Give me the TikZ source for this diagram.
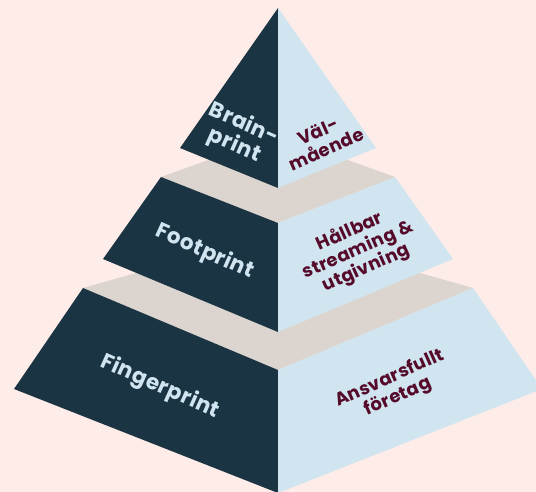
\documentclass[tikz,border=0pt]{standalone}
\usepackage{fontspec}
\setmainfont{Poppins}
\definecolor{bgc}{HTML}{FDECE8}
\definecolor{darkc}{HTML}{1B3443}
\definecolor{lightc}{HTML}{D0E5F0}
\definecolor{grayc}{HTML}{DCD4CE}
\definecolor{maroonc}{HTML}{550A2A}
\tikzset{
  lefttxt/.style={text=lightc, font=\bfseries\fontsize{21.5}{23.5}\selectfont\addfontfeatures{LetterSpace=2}, align=center, rotate=-24, inner sep=0pt},
  righttxt/.style={text=maroonc, font=\bfseries\fontsize{18}{20}\selectfont\addfontfeatures{LetterSpace=2}, align=center, rotate=24, inner sep=0pt}
}
\begin{document}
\begin{tikzpicture}[x=1pt,y=-1pt]
\useasboundingbox (0,0) rectangle (536,492);
\clip (0,0) rectangle (536,492);
\fill[bgc] (0,0) rectangle (536,492);
% bottom tier
\fill[grayc] (83,288) -- (278,233) -- (473,288) -- (278,370) -- cycle;
\fill[darkc] (83,288) -- (278,370) -- (278,493) -- (14,389) -- cycle;
\fill[lightc] (278,370) -- (473,288) -- (542,389) -- (278,493) -- cycle;
% middle tier
\fill[grayc] (161,177) -- (278,135) -- (395,177) -- (278,223) -- cycle;
\fill[darkc] (161,177) -- (278,223) -- (278,332) -- (103,259) -- cycle;
\fill[lightc] (278,223) -- (395,177) -- (453,259) -- (278,332) -- cycle;
% top tier
\fill[darkc] (278,8) -- (278,188) -- (180,148) -- cycle;
\fill[lightc] (278,8) -- (376,148) -- (278,188) -- cycle;
% labels
\node[lefttxt] (brain) at (239,135) {Brain-\\print};
\node[lefttxt] (foot) at (205,252) {Footprint};
\node[lefttxt] (finger) at (160,387) {Fingerprint};
\node[righttxt] (val) at (322,140) {Väl-\\mående};
\node[righttxt] (hall) at (358,250) {Hållbar\\streaming \&\\utgivning};
\node[righttxt] (ansv) at (394,388) {Ansvarsfullt\\företag};
\end{tikzpicture}
\end{document}
